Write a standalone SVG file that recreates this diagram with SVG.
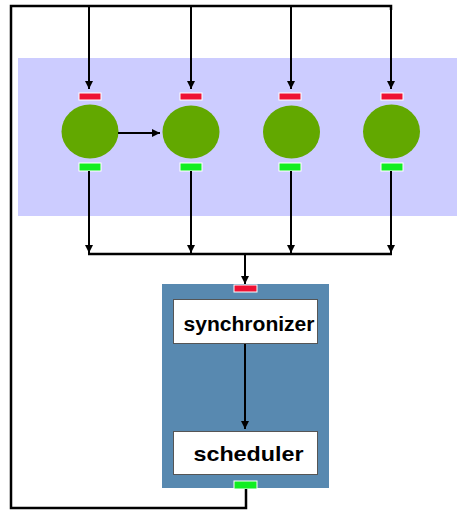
<svg xmlns="http://www.w3.org/2000/svg" width="457" height="510" viewBox="0 0 457 510">
  <defs>
    <marker id="arrow" viewBox="0 0 10 10" refX="10" refY="5" markerWidth="4" markerHeight="4.5" orient="auto" markerUnits="strokeWidth">
      <path d="M0,0 L10,5 L0,10 Z" fill="#000"/>
    </marker>
    <style>
      .wire { fill: none; stroke: #000; stroke-width: 2; }
      .loop { fill: none; stroke: #000; stroke-width: 2.5; }
      .in { fill: #ee1133; stroke: #fff; stroke-width: 1; }
      .out { fill: #11ee22; stroke: #fff; stroke-width: 1; }
      .proc { fill: #62a800; }
      .box { fill: #fff; stroke: #555; stroke-width: 1; }
      .label { font-family: "Liberation Sans", Arial, sans-serif; font-weight: bold; fill: #000; text-anchor: middle; }
    </style>
  </defs>

  <rect width="457" height="510" fill="#fff"/>

  <!-- process band -->
  <rect id="band" x="18" y="58" width="439" height="158" fill="#ccccff"/>

  <!-- controller -->
  <g id="controller">
    <rect x="162" y="284" width="167" height="204" fill="#5889b0"/>
    <rect class="in" x="234" y="285" width="23" height="7"/>
    <rect class="out" x="234" y="481" width="23" height="8"/>
  </g>
  <g id="synchronizer">
    <rect class="box" x="173.5" y="299.5" width="144" height="44"/>
    <text class="label" x="249" y="331" font-size="20" textLength="131" lengthAdjust="spacingAndGlyphs">synchronizer</text>
  </g>
  <g id="scheduler">
    <rect class="box" x="173.5" y="431.5" width="144" height="43"/>
    <text class="label" x="248.5" y="461" font-size="21" textLength="110" lengthAdjust="spacingAndGlyphs">scheduler</text>
  </g>

  <!-- processes -->
  <g id="p1">
    <rect class="in" x="79" y="93" width="22" height="7"/>
    <ellipse class="proc" cx="90" cy="131.5" rx="28.5" ry="27"/>
    <rect class="out" x="79" y="163" width="22" height="8"/>
  </g>
  <g id="p2">
    <rect class="in" x="180" y="93" width="22" height="7"/>
    <ellipse class="proc" cx="191" cy="132" rx="28.5" ry="26.5"/>
    <rect class="out" x="180" y="163" width="22" height="8"/>
  </g>
  <g id="p3">
    <rect class="in" x="279" y="93" width="22" height="7"/>
    <ellipse class="proc" cx="291.5" cy="132" rx="28.5" ry="26.5"/>
    <rect class="out" x="279" y="163" width="22" height="8"/>
  </g>
  <g id="p4">
    <rect class="in" x="381" y="93" width="22" height="7"/>
    <ellipse class="proc" cx="391.5" cy="131.5" rx="28.5" ry="27"/>
    <rect class="out" x="381" y="163" width="22" height="8"/>
  </g>

  <!-- connectors -->
  <g id="connectors">
    <!-- feedback loop from the controller output back to every process input -->
    <path class="loop" d="M246,489 V508 H11 V6 H391 V10"/>
    <path class="wire" d="M89,6 V89" marker-end="url(#arrow)"/>
    <path class="wire" d="M191,6 V89" marker-end="url(#arrow)"/>
    <path class="wire" d="M291,6 V89" marker-end="url(#arrow)"/>
    <path class="wire" d="M391,6 V89" marker-end="url(#arrow)"/>
    <!-- process to process -->
    <path class="wire" d="M118,133 H160" marker-end="url(#arrow)"/>
    <!-- process outputs into the collector bus -->
    <path class="wire" d="M89,171 V253" marker-end="url(#arrow)"/>
    <path class="wire" d="M191,171 V253" marker-end="url(#arrow)"/>
    <path class="wire" d="M291,171 V253" marker-end="url(#arrow)"/>
    <path class="wire" d="M391,171 V253" marker-end="url(#arrow)"/>
    <path class="loop" d="M88,254 H392"/>
    <path class="wire" d="M245,254 V284" marker-end="url(#arrow)"/>
    <!-- synchronizer to scheduler -->
    <path class="wire" d="M245,344 V429" marker-end="url(#arrow)"/>
  </g>
</svg>
